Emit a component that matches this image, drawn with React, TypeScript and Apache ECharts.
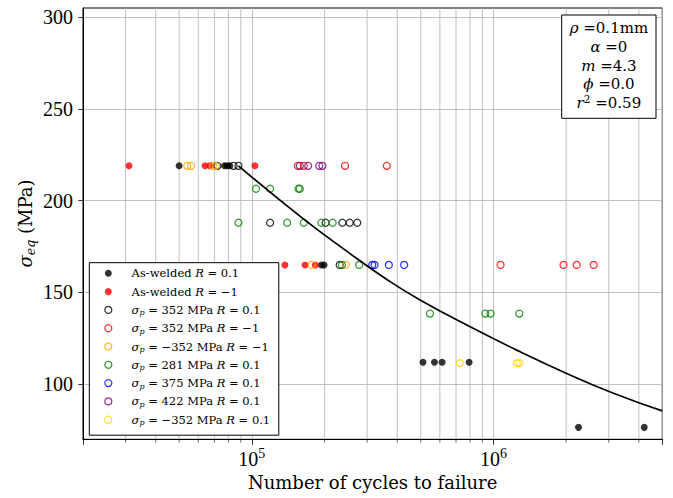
import React, { useEffect, useRef } from 'react';
import * as echarts from 'echarts';

// ---- data (cycles to failure, equivalent stress MPa) ----
const asWeldedR01 = [[5.0e4, 219], [7.7e4, 219], [7.9e4, 219], [8.1e4, 219], [1.94e5, 165], [1.99e5, 165], [5.11e5, 112], [5.7e5, 112], [6.13e5, 112], [7.93e5, 112], [2.25e6, 76.5], [4.21e6, 76.5]];
const asWeldedRm1 = [[3.1e4, 219], [6.4e4, 219], [6.7e4, 219], [1.03e5, 219], [1.37e5, 165], [1.66e5, 165], [1.83e5, 165]];
const sp352R01 = [[7.2e4, 219], [8.4e4, 219], [8.8e4, 219], [1.19e5, 188], [2.02e5, 188], [2.37e5, 188], [2.54e5, 188], [2.73e5, 188], [2.31e5, 165]];
const sp352Rm1 = [[1.55e5, 219], [1.64e5, 219], [2.43e5, 219], [3.62e5, 219], [1.07e6, 165], [1.95e6, 165], [2.21e6, 165], [2.6e6, 165]];
const spm352Rm1 = [[5.4e4, 219], [5.6e4, 219], [6.9e4, 219], [7.1e4, 219], [1.77e5, 165], [2.45e5, 165]];
const sp281R01 = [[1.04e5, 206.5], [1.19e5, 206.5], [1.56e5, 206.5], [1.58e5, 206.5], [8.8e4, 188], [1.4e5, 188], [1.64e5, 188], [1.94e5, 188], [2.16e5, 188], [2.36e5, 165], [2.78e5, 165], [5.46e5, 138.5], [9.25e5, 138.5], [9.73e5, 138.5], [1.28e6, 138.5]];
const sp375R01 = [[3.15e5, 165], [3.22e5, 165], [3.69e5, 165], [4.27e5, 165]];
const sp422R01 = [[1.58e5, 219], [1.71e5, 219], [1.9e5, 219], [1.96e5, 219]];
const spm352R01 = [[7.26e5, 111.5], [1.25e6, 111.5], [1.28e6, 111.5]];
const fitCurve = [[8.8e4, 219], [1.585e5, 191.5], [2.5e5, 172], [3.62e5, 157.1], [4.97e5, 145.9], [8.01e5, 131.3], [1.29e6, 117.7], [2.01e6, 105.9], [3.14e6, 95.1], [5.0e6, 85.5]];

const xMin = 2e4;
const xMax = 5e6;
const yMin = 70;
const yMax = 305;
const yTicks = [100, 150, 200, 250, 300];
const xMinorTicks = [3e4, 4e4, 5e4, 6e4, 7e4, 8e4, 9e4, 2e5, 3e5, 4e5, 5e5, 6e5, 7e5, 8e5, 9e5, 2e6, 3e6, 4e6];

const seriesDefs = [
  { name: 'As-welded R = 0.1', label: 'As-welded {i|R} = 0.1', data: asWeldedR01, color: '#000000', filled: true },
  { name: 'As-welded R = -1', label: 'As-welded {i|R} = −1', data: asWeldedRm1, color: '#ff0000', filled: true },
  { name: 'sp 352 R 0.1', label: '{i|σ}{sub|p} = 352 MPa {i|R} = 0.1', data: sp352R01, color: '#000000', filled: false },
  { name: 'sp 352 R -1', label: '{i|σ}{sub|p} = 352 MPa {i|R} = −1', data: sp352Rm1, color: '#ff0000', filled: false },
  { name: 'sp -352 R -1', label: '{i|σ}{sub|p} = −352 MPa {i|R} = −1', data: spm352Rm1, color: '#ffa500', filled: false },
  { name: 'sp 281 R 0.1', label: '{i|σ}{sub|p} = 281 MPa {i|R} = 0.1', data: sp281R01, color: '#008000', filled: false },
  { name: 'sp 375 R 0.1', label: '{i|σ}{sub|p} = 375 MPa {i|R} = 0.1', data: sp375R01, color: '#0000ff', filled: false },
  { name: 'sp 422 R 0.1', label: '{i|σ}{sub|p} = 422 MPa {i|R} = 0.1', data: sp422R01, color: '#800080', filled: false },
  { name: 'sp -352 R 0.1', label: '{i|σ}{sub|p} = −352 MPa {i|R} = 0.1', data: spm352R01, color: '#ffd700', filled: false },
];

const SERIF = 'Liberation Serif';
const TSERIF = 'DejaVu Serif';
const GRID_COLOR = '#b0b0b0';

export default function App() {
  const ref = useRef<HTMLDivElement>(null);
  useEffect(() => {
    if (!ref.current) return;
    const chart = echarts.init(ref.current, undefined, { renderer: 'svg' });
    const labelMap: Record<string, string> = {};
    seriesDefs.forEach((s) => (labelMap[s.name] = s.label));

    const styleFor = (s: any) =>
      s.filled
        ? { color: s.color, borderWidth: 0 }
        : { color: 'rgba(0,0,0,0)', borderColor: s.color, borderWidth: 1.25 };

    const option: any = {
      animation: false,
      backgroundColor: '#ffffff',
      grid: {
        left: 83,
        top: 8,
        right: 10.7,
        bottom: 58.7,
        show: true,
        borderColor: '#000',
        borderWidth: 1,
        backgroundColor: 'transparent',
      },
      xAxis: {
        type: 'log',
        logBase: 10,
        min: xMin,
        max: xMax,
        name: 'Number of cycles to failure',
        nameLocation: 'middle',
        nameGap: 34,
        nameTextStyle: { fontFamily: TSERIF, fontSize: 18, color: '#000' },
        axisLine: { show: true, lineStyle: { color: '#000', width: 1 } },
        axisTick: { show: true, length: 5.5, lineStyle: { color: '#000', width: 0.8 } },
        axisLabel: {
          margin: 7.5,
          formatter: (v: number) => {
            const e = Math.round(Math.log10(v));
            if (Math.abs(v - Math.pow(10, e)) / v < 1e-6) return `{b|10}{s|${e}}`;
            return '';
          },
          rich: {
            b: { fontFamily: SERIF, fontSize: 20, lineHeight: 22, color: '#000', verticalAlign: 'bottom' },
            s: { fontFamily: SERIF, fontSize: 14, lineHeight: 12, color: '#000', verticalAlign: 'top' },
          },
        },
        splitLine: { show: true, lineStyle: { color: GRID_COLOR, width: 0.8 } },
      },
      yAxis: {
        type: 'value',
        min: yMin,
        max: yMax,
        axisLine: { show: true, lineStyle: { color: '#000', width: 1 } },
        axisTick: { show: true, length: 4.7, customValues: yTicks, lineStyle: { color: '#000', width: 0.8 } },
        axisLabel: {
          customValues: yTicks,
          margin: 10,
          fontFamily: SERIF,
          fontSize: 20,
          color: '#000',
        },
        splitLine: { show: true, lineStyle: { color: GRID_COLOR, width: 0.8 } },
      },
      legend: {
        orient: 'vertical',
        left: 89.3,
        top: 262.7,
        padding: [3.6, 8.6, 8.5, 14.9],
        itemGap: 4.3,
        itemWidth: 7,
        itemHeight: 7,
        backgroundColor: '#fff',
        borderColor: '#000',
        borderWidth: 1,
        borderRadius: 0,
        selectedMode: false,
        z: 10,
        data: seriesDefs.map((s) => ({ name: s.name, icon: 'circle', itemStyle: styleFor(s) })),
        formatter: (name: string) => labelMap[name] || name,
        textStyle: {
          fontFamily: TSERIF,
          fontSize: 11.5,
          color: '#000',
          lineHeight: 14,
          padding: [0, 0, 0, 14.8],
          rich: {
            i: { fontFamily: TSERIF, fontSize: 11.5, fontStyle: 'italic', color: '#000', lineHeight: 14 },
            sub: { fontFamily: TSERIF, fontSize: 8, fontStyle: 'italic', color: '#000', lineHeight: 8, verticalAlign: 'bottom' },
          },
        },
      },
      graphic: [
        {
          type: 'text',
          z: 100,
          x: 25,
          y: 223.5,
          rotation: Math.PI / 2,
          style: {
            text: '{i|σ}{sub|eq} (MPa)',
            fontFamily: TSERIF,
            fontSize: 18,
            fill: '#000',
            align: 'center',
            verticalAlign: 'middle',
            rich: {
              i: { fontFamily: TSERIF, fontSize: 18, fontStyle: 'italic', lineHeight: 24 },
              sub: { fontFamily: TSERIF, fontSize: 12.5, fontStyle: 'italic', lineHeight: 12, verticalAlign: 'bottom' },
            },
          },
        },
        {
          type: 'rect',
          z: 100,
          shape: { x: 561.7, y: 15, width: 94.3, height: 103.3 },
          style: { fill: '#fff', stroke: '#000', lineWidth: 1 },
        },
        {
          type: 'text',
          z: 101,
          x: 608.9,
          y: 19,
          style: {
            text: '{i|ρ} =0.1mm\n{i|α} =0\n{i|m} =4.3\n{i|ϕ} =0.0\n{i|r}{sup|2} =0.59',
            fontFamily: TSERIF,
            fontSize: 15,
            lineHeight: 18.7,
            fill: '#000',
            align: 'center',
            verticalAlign: 'top',
            rich: {
              i: { fontFamily: TSERIF, fontSize: 15, fontStyle: 'italic', lineHeight: 18.7 },
              sup: { fontFamily: TSERIF, fontSize: 10.5, lineHeight: 10, verticalAlign: 'top' },
            },
          },
        },
      ],
      series: [
        {
          type: 'custom',
          name: 'minorGrid',
          silent: true,
          z: 0,
          clip: false,
          data: xMinorTicks.map((v) => [v, yMin]),
          encode: { x: 0, y: 1 },
          renderItem: (params: any, api: any) => {
            const pt = api.coord([api.value(0), api.value(1)]);
            const cs = params.coordSys;
            const x = pt[0];
            return {
              type: 'group',
              children: [
                {
                  type: 'line',
                  shape: { x1: x, y1: cs.y, x2: x, y2: cs.y + cs.height },
                  style: { stroke: GRID_COLOR, lineWidth: 0.8 },
                },
                {
                  type: 'line',
                  shape: { x1: x, y1: cs.y + cs.height, x2: x, y2: cs.y + cs.height + 3.3 },
                  style: { stroke: '#000', lineWidth: 0.6 },
                },
              ],
            };
          },
        },
        ...seriesDefs.map((s) => ({
          type: 'scatter',
          name: s.name,
          data: s.data,
          symbol: 'circle',
          symbolSize: s.filled ? 7 : 7,
          itemStyle: styleFor(s),
          z: 3,
        })),
        {
          type: 'line',
          name: 'fit',
          data: fitCurve,
          smooth: true,
          showSymbol: false,
          symbol: 'none',
          lineStyle: { color: '#000', width: 1.7 },
          z: 4,
        },
      ],
    };
    chart.setOption(option);
    return () => chart.dispose();
  }, []);
  return <div ref={ref} style={{ width: 673, height: 498, position: 'absolute', left: 0, top: 0 }} />;
}
